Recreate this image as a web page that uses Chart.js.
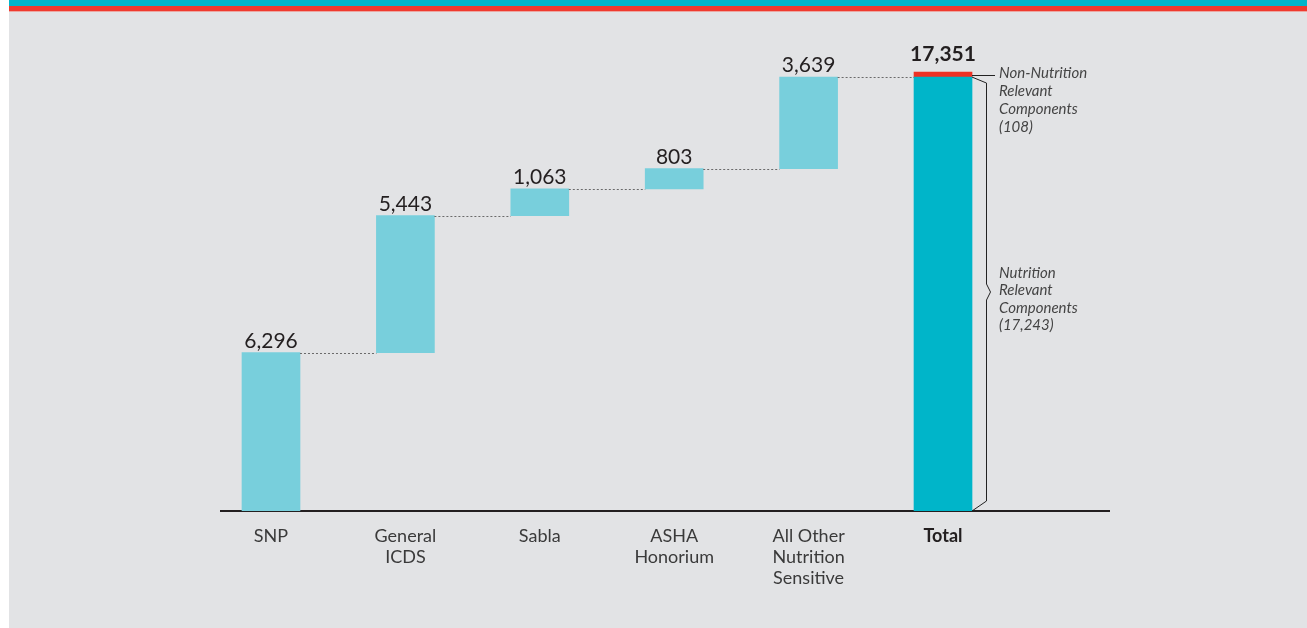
<!DOCTYPE html>
<html>
<head>
<meta charset="utf-8">
<script src="https://cdn.jsdelivr.net/npm/chart.js@4/dist/chart.umd.min.js"></script>
<style>
  html, body { margin: 0; padding: 0; background: #ffffff; }
  #frame { position: relative; width: 1307px; height: 628px; overflow: hidden; }
  #panel { position: absolute; left: 9px; top: 0; width: 1298px; height: 628px; background: #e2e3e5; }
  #stripeTeal { position: absolute; left: 9px; top: 0; width: 1298px; height: 6px; background: #02b5ca; }
  #stripeRed { position: absolute; left: 9px; top: 6px; width: 1298px; height: 5px; background: #ef3a2e; }
  #stripeEdge { position: absolute; left: 9px; top: 11px; width: 1298px; height: 1px; background: #eca7a2; }
  canvas { position: absolute; left: 0; top: 0; }
</style>
</head>
<body>
<div id="frame">
  <div id="panel"></div>
  <div id="stripeTeal"></div>
  <div id="stripeRed"></div>
  <div id="stripeEdge"></div>
  <canvas id="chart" width="1307" height="628"></canvas>
</div>
<script>
// Category labels (one entry per line of the axis label)
const categoryLines = [
  ['SNP'],
  ['General', 'ICDS'],
  ['Sabla'],
  ['ASHA', 'Honorium'],
  ['All Other', 'Nutrition', 'Sensitive'],
  ['Total']
];

// Contribution of each component
const increments = [6296, 5443, 1063, 803, 3639];

// Split of the total
const nutritionRelevant = 17243;
const nonNutritionRelevant = 108;
const grandTotal = 17351;

// Annotation texts for the total bar
const nonNutritionNote = ['Non-Nutrition', 'Relevant', 'Components', '(108)'];
const nutritionNote = ['Nutrition', 'Relevant', 'Components', '(17,243)'];

const totalIndex = categoryLines.length - 1;
const fmt = v => v.toLocaleString('en-US');

// Floating bars for the waterfall steps
const stepData = [];
let running = 0;
increments.forEach((v, i) => {
  stepData.push({ x: i, y: [running, running + v] });
  running += v;
});
const stepTops = stepData.map(d => d.y[1]);

const FONT = 'Lato, "Open Sans", sans-serif';
const DARK = '#231f20';

const waterfallDecor = {
  id: 'waterfallDecor',
  afterDatasetsDraw(chart) {
    const ctx = chart.ctx;
    const ys = chart.scales.y;
    const steps = chart.getDatasetMeta(0).data;
    const totalBar = chart.getDatasetMeta(1).data[0];
    const topBar = chart.getDatasetMeta(2).data[0];
    const half = b => b.width / 2;

    ctx.save();
    // dotted connectors between consecutive bars
    ctx.strokeStyle = '#6a6a6a';
    ctx.lineWidth = 1;
    ctx.setLineDash([2, 2]);
    steps.forEach((bar, i) => {
      const next = i + 1 < steps.length ? steps[i + 1] : totalBar;
      const y = Math.round(ys.getPixelForValue(stepTops[i])) + 0.5;
      ctx.beginPath();
      ctx.moveTo(bar.x + half(bar), y);
      ctx.lineTo(next.x - half(next), y);
      ctx.stroke();
    });
    ctx.setLineDash([]);

    // value labels above the step bars
    ctx.fillStyle = DARK;
    ctx.textAlign = 'center';
    ctx.textBaseline = 'alphabetic';
    ctx.font = '400 21px ' + FONT;
    steps.forEach((bar, i) => {
      ctx.fillText(fmt(increments[i]), bar.x, bar.y - 5);
    });
    ctx.font = '700 21px ' + FONT;
    ctx.fillText(fmt(grandTotal), topBar.x, topBar.y - 11);

    // callout for the non-nutrition slice
    const right = totalBar.x + half(totalBar);
    const redMid = (topBar.y + topBar.base) / 2;
    ctx.strokeStyle = '#222';
    ctx.lineWidth = 1;
    ctx.beginPath();
    ctx.moveTo(right, Math.round(redMid) + 0.5);
    ctx.lineTo(right + 23, Math.round(redMid) + 0.5);
    ctx.stroke();

    // brace along the nutrition-relevant part
    const yTop = ys.getPixelForValue(nutritionRelevant);
    const yBottom = ys.getPixelForValue(0);
    const braceX = right + 14.5;
    const tipY = (yTop + yBottom) / 2 - 2;
    ctx.beginPath();
    ctx.moveTo(right, yTop);
    ctx.lineTo(braceX, yTop + 6);
    ctx.lineTo(braceX, tipY - 8);
    ctx.lineTo(braceX + 4, tipY);
    ctx.lineTo(braceX, tipY + 8);
    ctx.lineTo(braceX, yBottom - 10);
    ctx.lineTo(right, yBottom);
    ctx.stroke();

    // annotation texts
    ctx.fillStyle = '#444';
    ctx.textAlign = 'left';
    ctx.textBaseline = 'middle';
    ctx.font = 'italic 400 15px ' + FONT;
    const textX = right + 27;
    nonNutritionNote.forEach((t, k) => ctx.fillText(t, textX, redMid - 1 + k * 17.8));
    nutritionNote.forEach((t, k) => ctx.fillText(t, textX, tipY - 19 + k * 17.5));
    ctx.restore();
  }
};

new Chart(document.getElementById('chart'), {
  type: 'bar',
  data: {
    datasets: [
      {
        label: 'Components',
        data: stepData,
        backgroundColor: '#78cfdc'
      },
      {
        label: 'Nutrition Relevant Components',
        data: [{ x: totalIndex, y: [0, nutritionRelevant] }],
        backgroundColor: '#00b5c9'
      },
      {
        label: 'Non-Nutrition Relevant Components',
        data: [{ x: totalIndex, y: [nutritionRelevant, nutritionRelevant + nonNutritionRelevant] }],
        backgroundColor: '#ee3124',
        minBarLength: 5
      }
    ]
  },
  options: {
    responsive: false,
    animation: false,
    devicePixelRatio: 1,
    layout: { padding: { left: 221, right: 198, top: 58, bottom: 0 } },
    datasets: { bar: { grouped: false, barThickness: 58, borderWidth: 0 } },
    plugins: { legend: { display: false }, tooltip: { enabled: false } },
    scales: {
      x: {
        type: 'linear',
        offset: false,
        min: -0.372,
        max: 6.235,
        afterBuildTicks(scale) {
          scale.ticks = categoryLines.map((_, i) => ({ value: i }));
        },
        afterFit(scale) { scale.height = 117; },
        grid: { display: false, drawTicks: false },
        border: { display: true, color: '#231f20', width: 2 },
        ticks: {
          autoSkip: false,
          maxRotation: 0,
          padding: 15,
          color: ctx => (ctx.tick && ctx.tick.value === totalIndex) ? DARK : '#3a3a3a',
          font: ctx => ({
            family: FONT,
            size: 18,
            weight: (ctx.tick && ctx.tick.value === totalIndex) ? '700' : '400',
            lineHeight: 1.17
          }),
          callback: value => categoryLines[value] || ''
        }
      },
      y: {
        display: false,
        min: 0,
        max: 18000
      }
    }
  },
  plugins: [waterfallDecor]
});
</script>
</body>
</html>
